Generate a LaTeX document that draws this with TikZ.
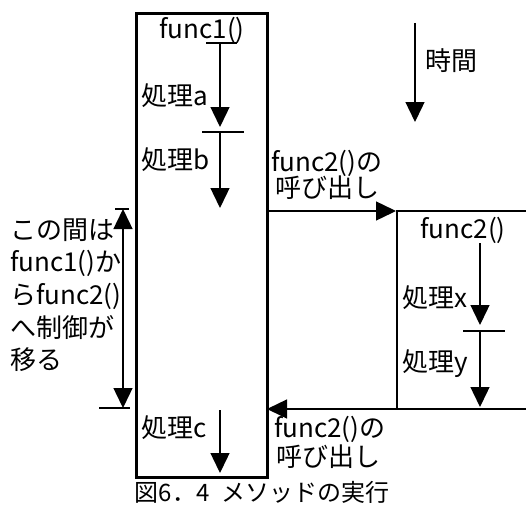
\documentclass[tikz,border=0pt]{standalone}
\usepackage{fontspec}
\setmainfont{Noto Sans CJK JP}
\usetikzlibrary{arrows.meta}
\begin{document}
\begin{tikzpicture}[x=1pt,y=-1pt,
  box/.style={line width=2.8pt},
  flow/.style={line width=1.4pt,-{Triangle[length=20pt,width=19pt]}},
  both/.style={line width=1.4pt,{Triangle[length=20pt,width=19pt]}-{Triangle[length=20pt,width=19pt]}},
  tick/.style={line width=1.4pt},
  lbl/.style={font=\fontsize{26}{30}\selectfont, inner sep=0pt, anchor=base west},
  ctr/.style={font=\fontsize{26}{30}\selectfont, inner sep=0pt, anchor=base},
]
\useasboundingbox (0,0) rectangle (526,508);

% func1 box
\node[draw, box, anchor=north west, minimum width=131pt, minimum height=464pt, inner sep=0pt] (f1) at (135,12) {};
\node[ctr] (f1t) at (202,39) {func1()};

\coordinate (t1a) at (206,43); \coordinate (t1b) at (237,43);
\coordinate (a1s) at (220,43); \coordinate (a1e) at (220,127);
\coordinate (t2a) at (202,132); \coordinate (t2b) at (244,132);
\coordinate (a2s) at (220,132); \coordinate (a2e) at (220,208);
\draw[tick] (t1a) -- (t1b);
\draw[flow] (a1s) -- (a1e);
\draw[tick] (t2a) -- (t2b);
\draw[flow] (a2s) -- (a2e);
\node[lbl] (pa) at (141,106) {処理a};
\node[lbl] (pb) at (141,169) {処理b};

% func2 box
\coordinate (b2a) at (528,211); \coordinate (b2b) at (397,211);
\coordinate (b2c) at (397,409); \coordinate (b2d) at (528,409);
\draw[box] (b2a) -- (b2b) -- (b2c) -- (b2d);
\node[ctr] (f2t) at (463,238) {func2()};
\coordinate (a3s) at (480,243); \coordinate (a3e) at (480,325);
\coordinate (t3a) at (463,331); \coordinate (t3b) at (505,331);
\coordinate (a4s) at (480,331); \coordinate (a4e) at (480,407);
\draw[flow] (a3s) -- (a3e);
\draw[tick] (t3a) -- (t3b);
\draw[flow] (a4s) -- (a4e);
\node[lbl] (px) at (402,307) {処理x};
\node[lbl] (py) at (402,371) {処理y};

% call arrow
\coordinate (c1s) at (267,211); \coordinate (c1e) at (396,211);
\draw[flow] (c1s) -- (c1e);
\node[lbl] (cl1) at (271,171) {func2()の};
\node[lbl] (cl2) at (275,197) {呼び出し};

% return arrow
\coordinate (r1s) at (396,409); \coordinate (r1e) at (267,409);
\draw[flow] (r1s) -- (r1e);
\node[lbl] (rl1) at (274,437) {func2()の};
\node[lbl] (rl2) at (276,466) {呼び出し};

% left span arrow
\coordinate (l1a) at (115,209); \coordinate (l1b) at (129,209);
\coordinate (l2a) at (99,408); \coordinate (l2b) at (130,408);
\coordinate (lsa) at (123,209); \coordinate (lsb) at (123,408);
\draw[tick] (l1a) -- (l1b);
\draw[tick] (l2a) -- (l2b);
\draw[both] (lsa) -- (lsb);
\node[lbl] (n1) at (10,239.5) {この間は};
\node[lbl] (n2) at (10,271.5) {func1()か};
\node[lbl] (n3) at (10,304.5) {らfunc2()};
\node[lbl] (n4) at (10,337.5) {へ制御が};
\node[lbl] (n5) at (10,369.5) {移る};

% process c
\node[lbl] (pc) at (141,437) {処理c};
\coordinate (a5s) at (220,410); \coordinate (a5e) at (220,473);
\draw[flow] (a5s) -- (a5e);

% time arrow
\coordinate (ts) at (415,23); \coordinate (te) at (415,122);
\draw[flow] (ts) -- (te);
\node[lbl] (tm) at (425,71) {時間};

% caption
\node[ctr, font=\fontsize{24}{28}\selectfont] (cap) at (262,501) {図6．4\hspace{12pt}メソッドの実行};
\end{tikzpicture}
\end{document}
